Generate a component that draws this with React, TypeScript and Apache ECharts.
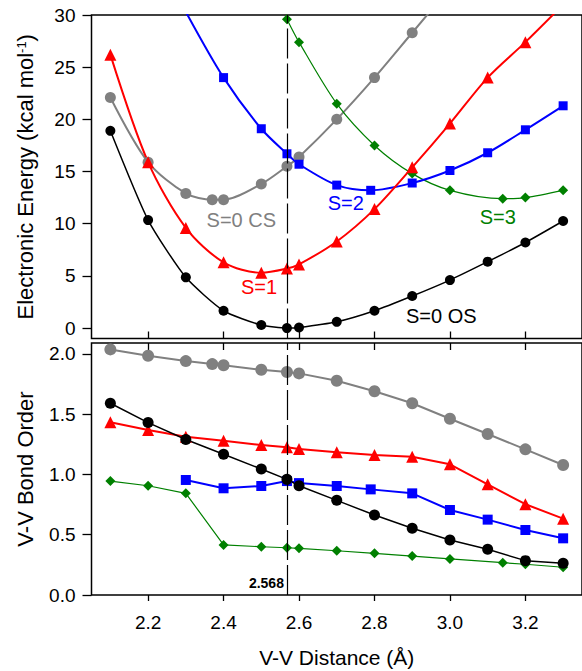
import React, { useEffect, useRef } from "react";
import * as echarts from "echarts";

const FONT = '"Liberation Sans", Arial, Helvetica, sans-serif';

// V-V distances (Å) and relative electronic energies (kcal/mol) per spin state
const blackE_x = [2.1, 2.2, 2.3, 2.4, 2.5, 2.568, 2.6, 2.7, 2.8, 2.9, 3.0, 3.1, 3.2, 3.3];
const blackE = [18.9, 10.35, 4.86, 1.66, 0.29, 0, 0.05, 0.6, 1.66, 3.07, 4.6, 6.36, 8.2, 10.26];

const grayE_x = [2.1, 2.2, 2.3, 2.37, 2.4, 2.5, 2.568, 2.6, 2.7, 2.8, 2.9, 3.0];
const grayE = [22.1, 15.9, 12.9, 12.3, 12.3, 13.8, 15.5, 16.4, 20.0, 24.0, 28.3, 32.6];

const redE_x = [2.1, 2.2, 2.3, 2.4, 2.5, 2.568, 2.6, 2.7, 2.8, 2.9, 3.0, 3.1, 3.2, 3.3];
const redE = [26.2, 15.9, 9.6, 6.3, 5.3, 5.7, 6.1, 8.3, 11.4, 15.4, 19.6, 24.0, 27.4, 31.0];

const blueE_x = [2.3, 2.4, 2.5, 2.568, 2.6, 2.7, 2.79, 2.9, 3.0, 3.1, 3.2, 3.3];
const blueE = [30.3, 24.0, 19.1, 16.7, 15.7, 13.7, 13.2, 13.9, 15.1, 16.8, 19.0, 21.3];

const greenE_x = [2.568, 2.6, 2.7, 2.8, 2.9, 3.0, 3.14, 3.2, 3.3];
const greenE = [29.6, 27.4, 21.5, 17.5, 14.8, 13.2, 12.4, 12.5, 13.2];

// V-V bond orders per spin state
const blackB_x = [2.1, 2.2, 2.3, 2.4, 2.5, 2.568, 2.6, 2.7, 2.8, 2.9, 3.0, 3.1, 3.2, 3.3];
const blackB = [1.59, 1.43, 1.29, 1.167, 1.045, 0.959, 0.906, 0.785, 0.663, 0.553, 0.456, 0.379, 0.285, 0.263];

const grayB_x = [2.1, 2.2, 2.3, 2.37, 2.4, 2.5, 2.568, 2.6, 2.7, 2.8, 2.9, 3.0, 3.1, 3.2, 3.3];
const grayB = [2.037, 1.984, 1.94, 1.915, 1.905, 1.868, 1.849, 1.838, 1.777, 1.69, 1.59, 1.462, 1.335, 1.208, 1.078];

const redB_x = [2.1, 2.2, 2.3, 2.4, 2.5, 2.568, 2.6, 2.7, 2.8, 2.9, 3.0, 3.1, 3.2, 3.3];
const redB = [1.432, 1.368, 1.313, 1.28, 1.244, 1.225, 1.211, 1.183, 1.161, 1.147, 1.084, 0.918, 0.753, 0.633];

const blueB_x = [2.3, 2.4, 2.5, 2.568, 2.6, 2.7, 2.79, 2.9, 3.0, 3.1, 3.2, 3.3];
const blueB = [0.954, 0.885, 0.904, 0.945, 0.928, 0.904, 0.876, 0.843, 0.705, 0.625, 0.539, 0.47];

const greenB_x = [2.1, 2.2, 2.3, 2.4, 2.5, 2.568, 2.6, 2.7, 2.8, 2.9, 3.0, 3.14, 3.2, 3.3];
const greenB = [0.945, 0.906, 0.843, 0.415, 0.4, 0.392, 0.387, 0.367, 0.346, 0.323, 0.299, 0.268, 0.255, 0.23];

// Axis ticks
const xTicks = [2.2, 2.4, 2.6, 2.8, 3.0, 3.2];
const energyTicks = [0, 5, 10, 15, 20, 25, 30];
const bondTicks = [0, 0.5, 1.0, 1.5, 2.0];

// Equilibrium distance marker
const eqDistance = 2.568;

// Spin-state labels in the energy panel (data coordinates)
const labelTexts = ["S=0 CS", "S=1", "S=2", "S=3", "S=0 OS"];
const labelX = [2.447, 2.494, 2.724, 3.127, 2.977];
const labelY = [10.35, 3.9, 11.98, 10.67, 1.18];
const labelColors = ["#808080", "#ff0000", "#0000ff", "#008000", "#000000"];

const pairs = (xs: number[], ys: number[]) => xs.map((x, i) => [x, ys[i]]);

function lineSeries(
  name: string,
  xs: number[],
  ys: number[],
  color: string,
  symbol: string,
  size: number,
  width: number,
  panel: number,
  smooth: number | boolean
) {
  return {
    name,
    type: "line",
    xAxisIndex: panel,
    yAxisIndex: panel,
    data: pairs(xs, ys),
    symbol,
    symbolSize: size,
    smooth,
    clip: true,
    showAllSymbol: true,
    itemStyle: { color },
    lineStyle: { color, width },
    z: 3,
  };
}

const dashLine = {
  silent: true,
  symbol: ["none", "none"],
  label: { show: false },
  lineStyle: { color: "#000", type: [30, 5], width: 1.2 },
  data: [{ xAxis: eqDistance }],
};

const GRID_LEFT = 91.5;
const GRID_WIDTH = 498;

export default function App() {
  const ref = useRef<HTMLDivElement>(null);

  useEffect(() => {
    if (!ref.current) return;
    const chart = echarts.init(ref.current, null, { renderer: "svg" });

    const xBase = {
      type: "value",
      min: 2.05,
      max: 3.35,
      splitLine: { show: false },
      axisLine: { show: false, onZero: false },
    };
    const tickStyle = { color: "#000", width: 1.3 };

    const option: any = {
      animation: false,
      backgroundColor: "#fff",
      textStyle: { fontFamily: FONT },
      grid: [
        {
          left: GRID_LEFT,
          top: 15,
          width: GRID_WIDTH,
          height: 323.5,
          show: true,
          borderColor: "#000",
          borderWidth: 1.5,
          backgroundColor: "transparent",
        },
        {
          left: GRID_LEFT,
          top: 343,
          width: GRID_WIDTH,
          height: 252,
          show: true,
          borderColor: "#000",
          borderWidth: 1.5,
          backgroundColor: "transparent",
        },
      ],
      xAxis: [
        {
          ...xBase,
          gridIndex: 0,
          position: "bottom",
          axisTick: { show: true, inside: true, length: 7, customValues: xTicks, lineStyle: tickStyle },
          axisLabel: { show: false },
        },
        {
          ...xBase,
          gridIndex: 1,
          position: "bottom",
          axisTick: { show: true, inside: false, length: 6, customValues: xTicks, lineStyle: tickStyle },
          axisLabel: {
            show: true,
            customValues: xTicks,
            margin: 18,
            color: "#000",
            fontSize: 19,
            fontFamily: FONT,
            formatter: (v: number) => v.toFixed(1),
          },
          name: "V-V Distance (Å)",
          nameLocation: "middle",
          nameGap: 52,
          nameTextStyle: { color: "#000", fontSize: 21, fontFamily: FONT },
        },
        {
          ...xBase,
          gridIndex: 1,
          position: "top",
          axisTick: { show: true, inside: true, length: 7, customValues: xTicks, lineStyle: tickStyle },
          axisLabel: { show: false },
        },
      ],
      yAxis: [
        {
          type: "value",
          gridIndex: 0,
          min: -1,
          max: 30,
          splitLine: { show: false },
          axisLine: { show: false, onZero: false },
          axisTick: { show: true, inside: false, length: 9, customValues: energyTicks, lineStyle: tickStyle },
          axisLabel: {
            customValues: energyTicks,
            margin: 16,
            color: "#000",
            fontSize: 19,
            fontFamily: FONT,
          },
          name: "{t|Electronic Energy (kcal mol}{s|-1}{t|)}",
          nameLocation: "middle",
          nameGap: 55,
          nameRotate: 90,
          nameTextStyle: {
            color: "#000",
            fontFamily: FONT,
            rich: {
              t: { fontSize: 22, fontFamily: FONT, color: "#000" },
              s: { fontSize: 13, fontFamily: FONT, color: "#000", verticalAlign: "top" },
            },
          },
        },
        {
          type: "value",
          gridIndex: 1,
          min: 0,
          max: 2.09,
          splitLine: { show: false },
          axisLine: { show: false, onZero: false },
          axisTick: { show: true, inside: false, length: 9, customValues: bondTicks, lineStyle: tickStyle },
          axisLabel: {
            customValues: bondTicks,
            margin: 16,
            color: "#000",
            fontSize: 19,
            fontFamily: FONT,
            formatter: (v: number) => v.toFixed(1),
          },
          name: "V-V Bond Order",
          nameLocation: "middle",
          nameGap: 55,
          nameRotate: 90,
          nameTextStyle: { color: "#000", fontSize: 22, fontFamily: FONT },
        },
      ],
      series: [
        { ...lineSeries("S=0 CS", grayE_x, grayE, "#808080", "circle", 11, 2, 0, 0.3) },
        { ...lineSeries("S=3", greenE_x, greenE, "#008000", "diamond", 10, 1.2, 0, 0.3) },
        { ...lineSeries("S=2", blueE_x, blueE, "#0000ff", "rect", 9, 2, 0, 0.3) },
        { ...lineSeries("S=1", redE_x, redE, "#ff0000", "triangle", 12, 2, 0, 0.3) },
        { ...lineSeries("S=0 OS", blackE_x, blackE, "#000000", "circle", 10, 1.5, 0, 0.2), markLine: dashLine },
        { ...lineSeries("S=0 CS BO", grayB_x, grayB, "#808080", "circle", 12, 2, 1, false) },
        { ...lineSeries("S=3 BO", greenB_x, greenB, "#008000", "diamond", 10, 1.2, 1, false) },
        { ...lineSeries("S=2 BO", blueB_x, blueB, "#0000ff", "rect", 10, 2, 1, false) },
        { ...lineSeries("S=1 BO", redB_x, redB, "#ff0000", "triangle", 12, 2, 1, false) },
        { ...lineSeries("S=0 OS BO", blackB_x, blackB, "#000000", "circle", 11, 1.5, 1, false), markLine: dashLine },
      ],
    };

    chart.setOption(option);

    const graphics: any[] = labelTexts.map((text, i) => {
      const [px, py] = chart.convertToPixel({ gridIndex: 0 }, [labelX[i], labelY[i]]) as number[];
      return {
        type: "text",
        x: px,
        y: py,
        silent: true,
        z: 10,
        style: {
          text,
          fill: labelColors[i],
          fontSize: 20,
          fontFamily: FONT,
          align: "center",
          verticalAlign: "middle",
        },
      };
    });
    const [eqX, eqY] = chart.convertToPixel({ gridIndex: 1 }, [eqDistance, 0]) as number[];
    graphics.push({
      type: "text",
      x: eqX - 3,
      y: eqY - 12,
      silent: true,
      z: 10,
      style: {
        text: eqDistance.toFixed(3),
        fill: "#000",
        fontSize: 14,
        fontWeight: "bold",
        fontFamily: FONT,
        align: "right",
        verticalAlign: "middle",
      },
    });
    chart.setOption({ graphic: graphics });

    return () => chart.dispose();
  }, []);

  return (
    <div
      ref={ref}
      style={{ position: "absolute", left: 0, top: 0, width: 582, height: 671, background: "#fff" }}
    />
  );
}
